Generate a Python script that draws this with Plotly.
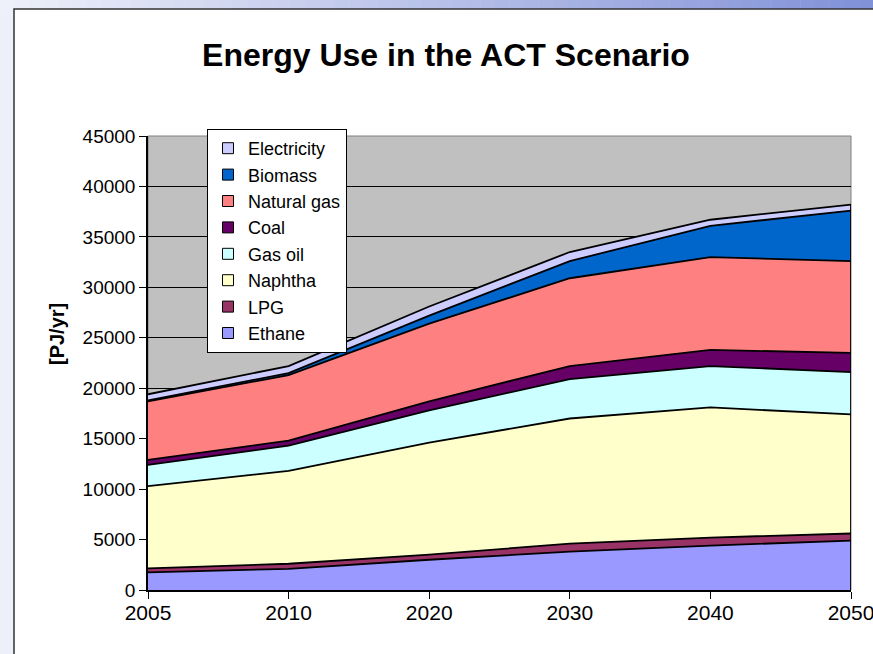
import plotly.graph_objects as go

years = ["2005", "2010", "2020", "2030", "2040", "2050"]
ethane = [1750, 2100, 3000, 3800, 4400, 4900]
lpg = [400, 500, 500, 800, 800, 700]
naphtha = [8150, 9200, 11100, 12400, 12900, 11800]
gas_oil = [2100, 2500, 3200, 3900, 4100, 4200]
coal = [500, 500, 900, 1300, 1600, 1900]
natural_gas = [5800, 6500, 7700, 8700, 9200, 9100]
biomass = [100, 200, 800, 1700, 3100, 5000]
electricity = [600, 700, 900, 900, 600, 600]

series = [
    ("Ethane", ethane, "#9999FF"),
    ("LPG", lpg, "#993366"),
    ("Naphtha", naphtha, "#FFFFCC"),
    ("Gas oil", gas_oil, "#CCFFFF"),
    ("Coal", coal, "#660066"),
    ("Natural gas", natural_gas, "#FF8080"),
    ("Biomass", biomass, "#0066CC"),
    ("Electricity", electricity, "#CCCCFF"),
]

W, H = 873, 654
L, R, T, B = 148, 851, 136, 590

def px(x):
    return (x - L) / (R - L)

def py(y):
    return (B - y) / (B - T)

fig = go.Figure()
for name, vals, col in series:
    fig.add_trace(go.Scatter(
        x=years, y=vals, name=name, mode="lines", stackgroup="one",
        line=dict(color="black", width=1.8), fillcolor=col, showlegend=False,
    ))

totals = [sum(v[i] for _, v, _ in series) for i in range(len(years))]
fig.add_trace(go.Scatter(x=[years[-1], years[-1]], y=[0, totals[-1]], mode="lines",
                         line=dict(color="black", width=1.8), showlegend=False,
                         hoverinfo="skip"))

# legend entries (square swatches)
for name, vals, col in reversed(series):
    fig.add_trace(go.Scatter(x=[None], y=[None], mode="markers", name=name,
                             marker=dict(symbol="square", size=11, color=col,
                                         line=dict(color="black", width=1))))

shapes = []
n = 60
c0 = (238, 240, 250)
c1 = (130, 146, 216)
for i in range(n):
    t = i / (n - 1)
    c = tuple(int(c0[k] + (c1[k] - c0[k]) * t) for k in range(3))
    x0 = W * i / n
    x1 = W * (i + 1) / n + 0.5
    shapes.append(dict(type="rect", xref="paper", yref="paper", x0=px(x0), x1=px(x1),
                       y0=py(9), y1=py(-2), fillcolor="rgb(%d,%d,%d)" % c,
                       line=dict(width=0), layer="below"))
shapes.append(dict(type="rect", xref="paper", yref="paper", x0=px(14), x1=px(W + 20),
                   y0=py(H + 20), y1=py(9), fillcolor="white",
                   line=dict(color="#333333", width=1.5), layer="below"))
shapes.append(dict(type="rect", xref="paper", yref="paper", x0=0, x1=1, y0=0, y1=1,
                   fillcolor="#C0C0C0", line=dict(color="#808080", width=1), layer="below"))

fig.update_layout(
    width=W, height=H,
    margin=dict(l=L, r=W - R, t=T, b=H - B, autoexpand=False),
    paper_bgcolor="#EEF0F9",
    plot_bgcolor="rgba(0,0,0,0)",
    font=dict(family="Arial, Liberation Sans, sans-serif", size=18, color="black"),
    title=dict(text="<b>Energy Use in the ACT Scenario</b>", x=446 / W, xanchor="center",
               y=1 - 55 / H, yanchor="middle", font=dict(size=32)),
    shapes=shapes,
    showlegend=True,
    legend=dict(x=px(207), y=py(129), xanchor="left", yanchor="top",
                bgcolor="white", bordercolor="black", borderwidth=1,
                traceorder="normal", font=dict(size=18), tracegroupgap=0,
                itemwidth=30),
    annotations=[dict(text="<b>[PJ/yr]</b>", textangle=-90, xref="paper", yref="paper",
                      x=px(44), y=py(334), showarrow=False, font=dict(size=20))],
)
fig.update_xaxes(type="category", range=[0, len(years) - 1], showline=True, linecolor="black",
                 linewidth=1.5, ticks="outside", ticklen=7, tickcolor="black", showgrid=False,
                 zeroline=False, tickfont=dict(size=21), ticklabelstandoff=-4)
fig.update_yaxes(range=[0, 45000], dtick=5000, showline=True, linecolor="black", linewidth=1.5,
                 ticks="outside", ticklen=7, tickcolor="black", showgrid=True,
                 gridcolor="black", gridwidth=1, zeroline=False, tickformat="d",
                 tickfont=dict(size=19))

fig.write_html("out.html", config={"displayModeBar": False},
               post_script="document.body.style.margin='0px';document.body.style.overflow='hidden';")
